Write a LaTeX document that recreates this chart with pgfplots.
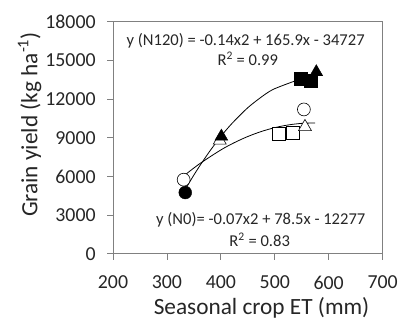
\documentclass[border=0pt]{standalone}
\usepackage{pgfplots}
\pgfplotsset{compat=1.18}
\usepackage{fontspec}
\setmainfont{Carlito}
\begin{document}
\begin{tikzpicture}
\begin{axis}[
  scale only axis, width=272pt, height=234pt,
  xmin=200, xmax=700, ymin=0, ymax=18000,
  xtick={200,300,...,700}, ytick={0,3000,...,18000},
  scaled y ticks=false,
  /pgf/number format/assume math mode=true,
  yticklabel style={/pgf/number format/fixed, /pgf/number format/1000 sep={}, xshift=-8pt},
  xticklabel style={/pgf/number format/1000 sep={}, yshift=-13pt},
  tick label style={font=\fontsize{20}{24}\selectfont, text=black!85},
  xlabel={Seasonal crop ET (mm)},
  ylabel={Grain yield (kg ha\textsuperscript{-1})},
  every axis x label/.style={at={(axis description cs:0.551,-0.263)}, anchor=base, font=\fontsize{23.5}{28}\selectfont, text=black!85},
  every axis y label/.style={at={(axis description cs:-0.309,0.557)}, anchor=center, rotate=90, font=\fontsize{23.5}{28}\selectfont, text=black!85},
  axis line style={black!50, line width=1pt},
  tick style={black!50, line width=0.8pt},
  tick align=outside, major tick length=6pt,
  xtick pos=bottom, ytick pos=left,
  clip=false,
]
% trendlines
\addplot[black, line width=0.8pt, smooth] coordinates {
 (330,6000) (360,6967) (400,8057) (425,8623) (450,9100) (475,9487) (500,9787) (525,9997) (550,10119) (575,10150)};
\addplot[black, line width=0.8pt, smooth] coordinates {
 (330,4700) (345,5768) (360,6767) (380,7994) (400,9100) (420,10085) (450,11335) (480,12312) (500,12812) (540,13449)};
% N0 open
\addplot[only marks, mark=*, mark size=6.5pt, draw=black, fill=white, line width=0.6pt] coordinates {(331,5750) (554,11200)};
\addplot[only marks, mark=square*, mark size=6.5pt, draw=black, fill=white, line width=0.6pt] coordinates {(508,9300) (533,9400)};
\addplot[only marks, mark=triangle*, mark size=7.5pt, draw=black, fill=white, line width=0.6pt] coordinates {(398,8800) (556,9850)};
% N120 filled
\addplot[only marks, mark=*, mark size=6.5pt, draw=black, fill=black] coordinates {(334,4750)};
\addplot[only marks, mark=square*, mark size=6.5pt, draw=black, fill=black] coordinates {(548,13600) (566,13450)};
\addplot[only marks, mark=triangle*, mark size=7.5pt, draw=black, fill=black] coordinates {(401,9100) (577,14100)};
% equations
\node[font=\fontsize{16.7}{20}\selectfont, text=black!85] at (axis cs:446,16550) {y (N120) = -0.14x2 + 165.9x - 34727};
\node[font=\fontsize{16.7}{20}\selectfont, text=black!85] at (axis cs:450,15150) {R\textsuperscript{2} = 0.99};
\node[font=\fontsize{16.7}{20}\selectfont, text=black!85] at (axis cs:474,2600) {y (N0)= -0.07x2 + 78.5x - 12277};
\node[font=\fontsize{16.7}{20}\selectfont, text=black!85] at (axis cs:472,1100) {R\textsuperscript{2} = 0.83};
\path (rel axis cs:0,0) ++(-114pt,-68pt) coordinate (bl);
\path (rel axis cs:1,1) ++(15pt,22pt) coordinate (tr);
\end{axis}
\path (bl) rectangle (tr);
\end{tikzpicture}
\end{document}
